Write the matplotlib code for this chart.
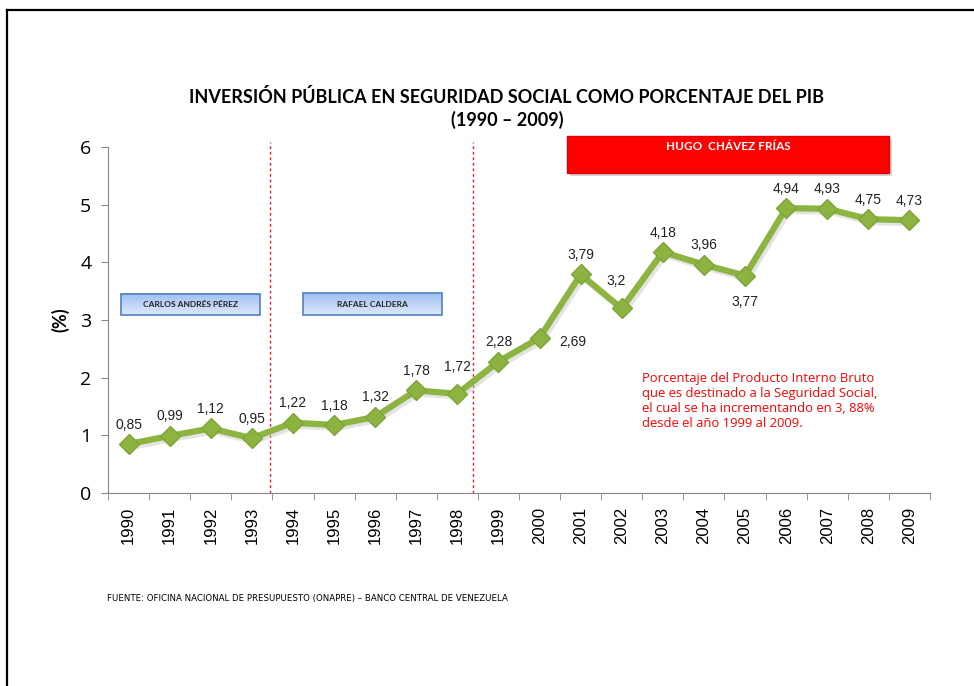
import matplotlib
matplotlib.use('Agg')
from matplotlib import pyplot as plt
from matplotlib.lines import Line2D
from matplotlib.patches import Rectangle
import numpy as np

years = ['1990', '1991', '1992', '1993', '1994', '1995', '1996', '1997', '1998', '1999',
         '2000', '2001', '2002', '2003', '2004', '2005', '2006', '2007', '2008', '2009']
values = [0.85, 0.99, 1.12, 0.95, 1.22, 1.18, 1.32, 1.78, 1.72, 2.28,
          2.69, 3.79, 3.2, 4.18, 3.96, 3.77, 4.94, 4.93, 4.75, 4.73]
value_labels = ['0,85', '0,99', '1,12', '0,95', '1,22', '1,18', '1,32', '1,78', '1,72', '2,28',
                '2,69', '3,79', '3,2', '4,18', '3,96', '3,77', '4,94', '4,93', '4,75', '4,73']
presidents = ['CARLOS ANDRÉS PÉREZ', 'RAFAEL CALDERA', 'HUGO  CHÁVEZ FRÍAS']

GREEN = '#8db440'
SANS = ['Liberation Sans', 'DejaVu Sans']
TITLE_FONT = ['Lato', 'DejaVu Sans']

fig = plt.figure(figsize=(9.74, 6.86), dpi=100)
ax = fig.add_axes([0.1109, 0.2813, 0.8439, 0.5044])

x = np.arange(len(years))

# faint shadow under the line
ax.plot(x + 0.06, np.array(values) - 0.05, color='#c8c8c8', lw=4.5, alpha=0.5,
        solid_capstyle='round', zorder=2)
ax.plot(x, values, color=GREEN, lw=4.5, marker='D', markersize=10.5,
        markerfacecolor=GREEN, markeredgecolor='#7ea537', zorder=3)

ax.set_xlim(-0.5, len(years) - 0.5)
ax.set_ylim(0, 6)
ax.set_yticks(range(0, 7))
ax.set_xticks(x)
ax.set_xticklabels(years, rotation=90, fontsize=12, family=SANS)
ax.set_xticks(np.arange(-0.5, len(years)), minor=True)
ax.tick_params(axis='x', which='major', length=0, pad=10)
ax.tick_params(axis='x', which='minor', length=5, color='#888888', direction='out')
ax.tick_params(axis='y', length=5, color='#888888', labelsize=14, pad=7)
for lab in ax.get_yticklabels():
    lab.set_family(['Open Sans', 'DejaVu Sans'])

for side in ['top', 'right']:
    ax.spines[side].set_visible(False)
for side in ['left', 'bottom']:
    ax.spines[side].set_color('#888888')

ax.set_ylabel('(%)', fontsize=13, fontweight='bold', family=TITLE_FONT, labelpad=8)

# data labels
offsets = {8: (0, 19), 10: (24, -3), 12: (-4, 20), 15: (0, -19)}
for i, (v, t) in enumerate(zip(values, value_labels)):
    dx, dy = offsets.get(i, (0, 14))
    ax.annotate(t, (i, v), xytext=(dx, dy), textcoords='offset points',
                ha='center', va='center', fontsize=10, family=SANS, color='#222222')

# government boundaries
for bx in [3.44, 8.37]:
    ax.plot([bx, bx], [0, 6.08], color='#e8242a', lw=1, ls=(0, (2, 2)),
            clip_on=False, zorder=1)

# president boxes
blue_boxes = [(-0.18, 3.08, 3.38, 0.37), (4.24, 3.08, 3.38, 0.38)]
for (bx0, by0, bw, bh), name in zip(blue_boxes, presidents[:2]):
    grad = np.linspace(0, 1, 50).reshape(-1, 1)
    ax.imshow(grad, cmap=matplotlib.colors.LinearSegmentedColormap.from_list(
        'b', ['#dde9fb', '#9ebff2']), extent=[bx0, bx0 + bw, by0 + bh, by0],
        aspect='auto', zorder=2, origin='upper')
    ax.add_patch(Rectangle((bx0, by0), bw, bh, fill=False, edgecolor='#4f81bd',
                           lw=1.2, zorder=2.5))
    ax.text(bx0 + bw / 2, by0 + bh / 2, name, ha='center', va='center', fontsize=6,
            fontweight='bold', family=TITLE_FONT, color='#222222', zorder=3)

rx0, ry0, rw, rh = 10.67, 5.55, 7.83, 0.64
ax.add_patch(Rectangle((rx0 + 0.08, ry0 - 0.06), rw, rh, facecolor='#bbbbbb',
                       edgecolor='none', alpha=0.6, clip_on=False, zorder=2))
ax.add_patch(Rectangle((rx0, ry0), rw, rh, facecolor='#ff0000', edgecolor='#e00000',
                       clip_on=False, zorder=2.5))
ax.text(rx0 + rw / 2, ry0 + rh * 0.72, presidents[2], ha='center', va='center',
        fontsize=8.5, fontweight='bold', family=TITLE_FONT, color='white', zorder=3)

# note
ax.text(12.5, 1.09,
        'Porcentaje del Producto Interno Bruto\n'
        'que es destinado a la Seguridad Social,\n'
        'el cual se ha incrementando en 3, 88%\n'
        'desde el año 1999 al 2009.',
        ha='left', va='bottom', fontsize=9.4, color='#ff0000',
        family=['Open Sans', 'DejaVu Sans'], linespacing=1.2)

fig.text(0.5205, 1 - 97 / 686, 'INVERSIÓN PÚBLICA EN SEGURIDAD SOCIAL COMO PORCENTAJE DEL PIB',
         ha='center', va='center', fontsize=13, fontweight='bold', family=TITLE_FONT)
fig.text(0.5205, 1 - 120 / 686, '(1990 – 2009)', ha='center', va='center',
         fontsize=13, fontweight='bold', family=TITLE_FONT)

fig.text(107 / 974, 1 - 598 / 686,
         'FUENTE: OFICINA NACIONAL DE PRESUPUESTO (ONAPRE) – BANCO CENTRAL DE VENEZUELA',
         ha='left', va='center', fontsize=6.2, family=['Liberation Sans Narrow', 'DejaVu Sans'])

# slide border
fig.add_artist(Line2D([7 / 974, 1], [1 - 10 / 686, 1 - 10 / 686], color='black', lw=1.6))
fig.add_artist(Line2D([7 / 974, 7 / 974], [0, 1 - 10 / 686], color='black', lw=1.6))

fig.savefig('out.png', dpi=100)
